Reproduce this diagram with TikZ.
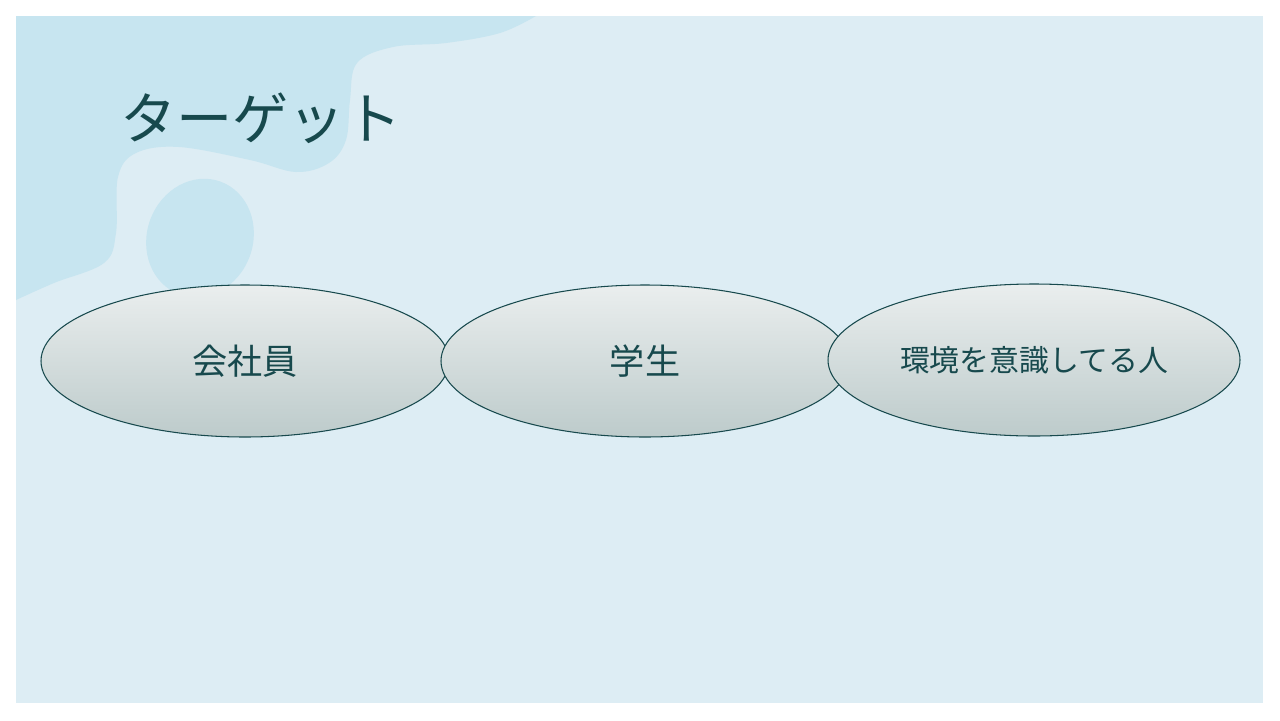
\documentclass[tikz,border=0pt]{standalone}
\usepackage{fontspec}
\newfontfamily\cjk{Noto Sans CJK JP}
\usetikzlibrary{shapes.geometric}
\definecolor{bgblue}{HTML}{DDEDF4}
\definecolor{blobblue}{HTML}{C7E5F0}
\definecolor{ink}{HTML}{17494D}
\definecolor{ovaltop}{HTML}{EAEEEE}
\definecolor{ovalbot}{HTML}{BDCBCB}
\tikzset{oval/.style={ellipse, draw=ink, semithick, top color=ovaltop, bottom color=ovalbot,
  minimum width=408*0.02cm, minimum height=152*0.02cm, inner sep=0pt, text=ink, font=\cjk\fontsize{20}{24}\selectfont}}
\tikzset{blob/.style={fill=blobblue}}

\begin{document}
\begin{tikzpicture}[x=0.02cm, y=-0.02cm]
    \useasboundingbox (0, 0) rectangle (1280, 720);
    \fill[white] (0, 0) rectangle (1280, 720);
    \fill[bgblue] (16, 16) rectangle (1263, 703);
    % decoration at top left
    \begin{scope}
        \clip (16, 16) rectangle (1263, 703);
        \fill[blob] (16, 16) -- plot[smooth, tension=.6] coordinates {(536, 16) (500, 33) (446, 43) (393, 47) (357, 63) (350, 100) (346, 140) (329, 163) (296, 172) (250, 160) (179, 147) (136, 153) (118, 177) (116, 233) (104, 263) (54, 283) (16, 300)} -- cycle;
        \fill[blob, rotate around={-20:(200, 238)}] (200, 238) ellipse (53 and 60);
    \end{scope}
    \node[text=ink, font=\cjk\fontsize{32}{38}\selectfont, anchor=west] (title) at (114, 118) {ターゲット};
    \node[oval] (worker) at (245, 361) {会社員};
    \node[oval] (student) at (645, 361) {学生};
    \node[oval, minimum width=412*0.02cm, font=\cjk\fontsize{17}{20}\selectfont] (eco) at (1034, 360) {環境を意識してる人};
\end{tikzpicture}
\end{document}
